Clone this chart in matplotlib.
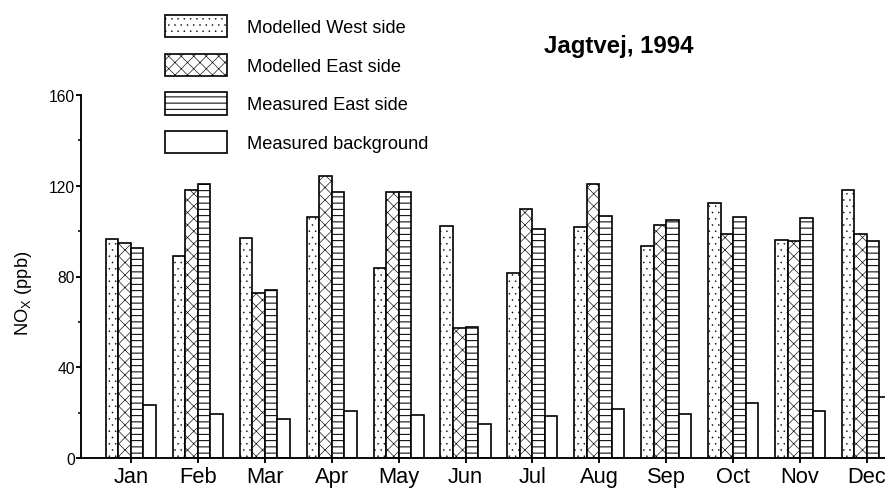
import numpy as np
import matplotlib
matplotlib.use("Agg")
import matplotlib.pyplot as plt
import matplotlib.ticker as ticker

# ── data ──────────────────────────────────────────────────────────────────────
months = ["Jan", "Feb", "Mar", "Apr", "May", "Jun",
          "Jul", "Aug", "Sep", "Oct", "Nov", "Dec"]

modelled_west = [96.4, 88.9, 96.9, 106.3, 83.7, 102.1, 81.4, 101.9, 93.4, 112.5, 96.1, 117.9]
modelled_east = [94.9, 117.9, 72.6, 124.4, 117.0, 57.2, 109.7, 120.7, 102.8, 98.7, 95.8, 98.7]
measured_east = [92.4, 120.6, 74.2, 117.3, 117.0, 57.9, 100.9, 106.6, 104.9, 106.0, 105.6, 95.6]
measured_bg   = [23.5, 19.6, 17.4, 20.7, 19.2, 15.0, 18.7, 21.8, 19.5, 24.3, 21.0, 27.1]

# label, values, hatch, hatch line width
series = [
    ("Modelled West side",  modelled_west, "..", 0.3),
    ("Modelled East side",  modelled_east, "xx", 0.6),
    ("Measured East side",  measured_east, "--", 1.0),
    ("Measured background", measured_bg,   "",   1.0),
]

# ── figure ────────────────────────────────────────────────────────────────────
plt.rcParams.update({
    "font.family":       "Liberation Sans",
    "mathtext.fontset":  "custom",
    "mathtext.rm":       "Liberation Sans",
    "mathtext.it":       "Liberation Sans:italic",
    "axes.linewidth":    1.8,
    "axes.spines.top":   False,
    "axes.spines.right": False,
})

DPI = 75
fig = plt.figure(figsize=(885 / DPI, 492 / DPI), dpi=DPI)
ax = fig.add_axes([81 / 885, 32.7 / 492, 1 - 81 / 885, 363.6 / 492])

x = np.arange(len(months))
w = 0.187
offsets = (np.arange(len(series)) - 1.5) * w

for (label, vals, hatch, hlw), off in zip(series, offsets):
    with plt.rc_context({"hatch.linewidth": hlw}):
        bars = ax.bar(x + off, vals, width=w, facecolor="white", edgecolor="black",
                      hatch=hatch, linewidth=1.6, label=label, zorder=2)
    for b in bars:
        if hasattr(b, "set_hatch_linewidth"):
            b.set_hatch_linewidth(hlw)

ax.set_xlim(-0.747, 11.27)
ax.set_ylim(0, 160)
ax.set_xticks(x)
ax.set_xticklabels(months, fontsize=21)
ax.yaxis.set_major_locator(ticker.MultipleLocator(40))
ax.yaxis.set_minor_locator(ticker.MultipleLocator(20))
ax.tick_params(axis="y", which="major", length=5, width=1.8, labelsize=15, pad=1)
ax.tick_params(axis="y", which="minor", length=2.5, width=1.5)
ax.tick_params(axis="x", which="major", length=5, width=1.8, pad=2)

ax.set_ylabel("NO$_\\mathrm{X}$ (ppb)", fontsize=17.5)
ax.yaxis.set_label_coords(-0.059, 0.455)

leg = fig.legend(loc="upper left", bbox_to_anchor=(165 / 885, 1 - 16 / 492),
                 frameon=False, fontsize=17.5, borderpad=0, borderaxespad=0,
                 handlelength=3.4, handleheight=1.5, handletextpad=1.08,
                 labelspacing=0.9)
for h, (_, _, _, hlw) in zip(leg.legend_handles, series):
    if hasattr(h, "set_hatch_linewidth"):
        h.set_hatch_linewidth(hlw)

fig.text(619 / 885, 1 - 46 / 492, "Jagtvej, 1994", ha="center", va="center",
         fontsize=23, fontweight="bold")

fig.savefig("out.png", dpi=DPI)
